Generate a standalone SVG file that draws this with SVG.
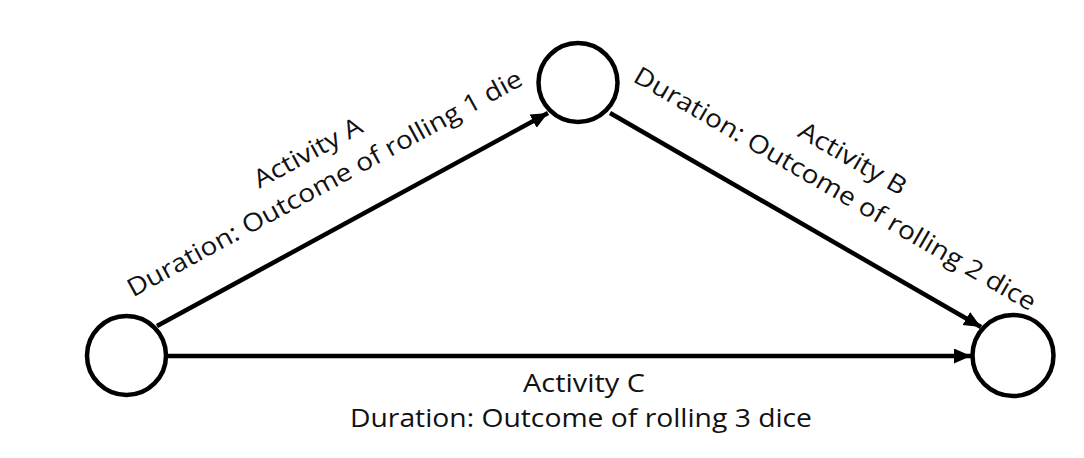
<svg xmlns="http://www.w3.org/2000/svg" width="1084" height="458" viewBox="0 0 1084 458">
<style>
.node{fill:#fff;stroke:#000;stroke-width:4.5}
.edge{stroke:#000;stroke-width:4.5;fill:none;marker-end:url(#arr)}
.lbl{font-family:"Open Sans","Liberation Sans",sans-serif;font-size:25px;fill:#111;text-anchor:middle}
</style>
<defs>
<marker id="arr" markerUnits="userSpaceOnUse" markerWidth="18" markerHeight="16" refX="17" refY="7.5" orient="auto">
<path d="M0,0 L17,7.5 L0,15 z" fill="#000"/>
</marker>
</defs>
<rect width="1084" height="458" fill="#fff"/>
<g id="connectors">
<line class="edge" x1="157" y1="326" x2="548" y2="113"/>
<line class="edge" x1="610" y1="113" x2="981" y2="327"/>
<line class="edge" x1="168" y1="356" x2="971" y2="356"/>
</g>
<g id="node-start"><circle class="node" cx="126.5" cy="355.5" r="39.5"/></g>
<g id="node-mid"><circle class="node" cx="578" cy="82.5" r="39.5"/></g>
<g id="node-end"><circle class="node" cx="1013" cy="355.5" r="40.5"/></g>
<g id="labels">
<g transform="translate(346.4,223.3) rotate(-28.6)">
<text class="lbl" x="0" y="-72" textLength="120" lengthAdjust="spacingAndGlyphs">Activity A</text>
<text class="lbl" x="0" y="-37" textLength="446" lengthAdjust="spacingAndGlyphs">Duration: Outcome of rolling 1 die</text>
</g>
<g transform="translate(811.8,229) rotate(30.1)">
<text class="lbl" x="0" y="-73" textLength="120" lengthAdjust="spacingAndGlyphs">Activity B</text>
<text class="lbl" x="0" y="-38" textLength="460" lengthAdjust="spacingAndGlyphs">Duration: Outcome of rolling 2 dice</text>
</g>
<text class="lbl" x="584" y="392" textLength="122" lengthAdjust="spacingAndGlyphs">Activity C</text>
<text class="lbl" x="581" y="427" textLength="462" lengthAdjust="spacingAndGlyphs">Duration: Outcome of rolling 3 dice</text>
</g>
</svg>
